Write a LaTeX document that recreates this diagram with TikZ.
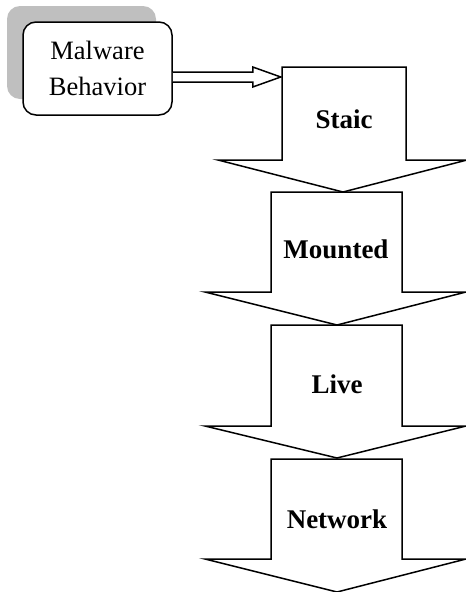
\documentclass[tikz,border=0pt]{standalone}
\usepackage{fontspec}
\setmainfont{Liberation Serif}
\usetikzlibrary{calc}
\tikzset{
  bigarr/.style={draw=black, fill=white, line width=1.5pt, line join=miter},
  lbl/.style={font=\fontsize{27}{36}\selectfont\bfseries, anchor=base, inner sep=0pt},
  mbox/.style={draw=black, fill=white, line width=1.5pt, rounded corners=13pt,
    minimum width=149pt, minimum height=93pt, align=center, inner sep=0pt,
    font=\fontsize{26.5}{36}\selectfont},
  shadowbox/.style={fill=black!25, rounded corners=13pt},
  hollow/.style={draw=black, fill=white, line width=1.5pt, line join=miter}
}
\newcommand\mybigarrow[8]{%
  \draw[bigarr] (#1,#3) -- (#2,#3) -- (#2,#4) -- (#6,#4) -- (#7,#8) -- (#5,#4) -- (#1,#4) -- cycle;}
\begin{document}
\begin{tikzpicture}[x=1pt,y=-1pt]
\useasboundingbox (0,0) rectangle (466,592);
% big arrows: shaft left, shaft right, top, shoulder, head left, head right, tip x, tip y
\mybigarrow{282}{406}{67}{160}{218}{467}{343}{192}
\mybigarrow{271}{402}{192}{292}{205}{466}{337}{325}
\mybigarrow{271}{402}{325}{426}{205}{466}{337}{458}
\mybigarrow{271}{402}{459}{559}{205}{466}{337}{592}
\node[lbl] (staic) at (344,128) {Staic};
\node[lbl] (mounted) at (336,258) {Mounted};
\node[lbl] (live) at (337,393) {Live};
\node[lbl] (network) at (337,528) {Network};
% malware box with shadow
\coordinate (mbc) at (97.5,68.5);
\fill[shadowbox] ($(mbc)+(-74.5-16,-46.5-16)$) rectangle ($(mbc)+(74.5-16,46.5-16)$);
\node[mbox] (mb) at (mbc) {Malware\\Behavior};
% hollow connector
\coordinate (ha) at ($(mb.east)+(0,8.5)$);
\draw[hollow] ($(ha)+(0,-5)$) -- ++(80,0) -- ++(0,-5) -- ($(ha)+(108,0)$) -- ($(ha)+(80,10)$) -- ++(0,-5) -- ($(ha)+(0,5)$);
\end{tikzpicture}
\end{document}
